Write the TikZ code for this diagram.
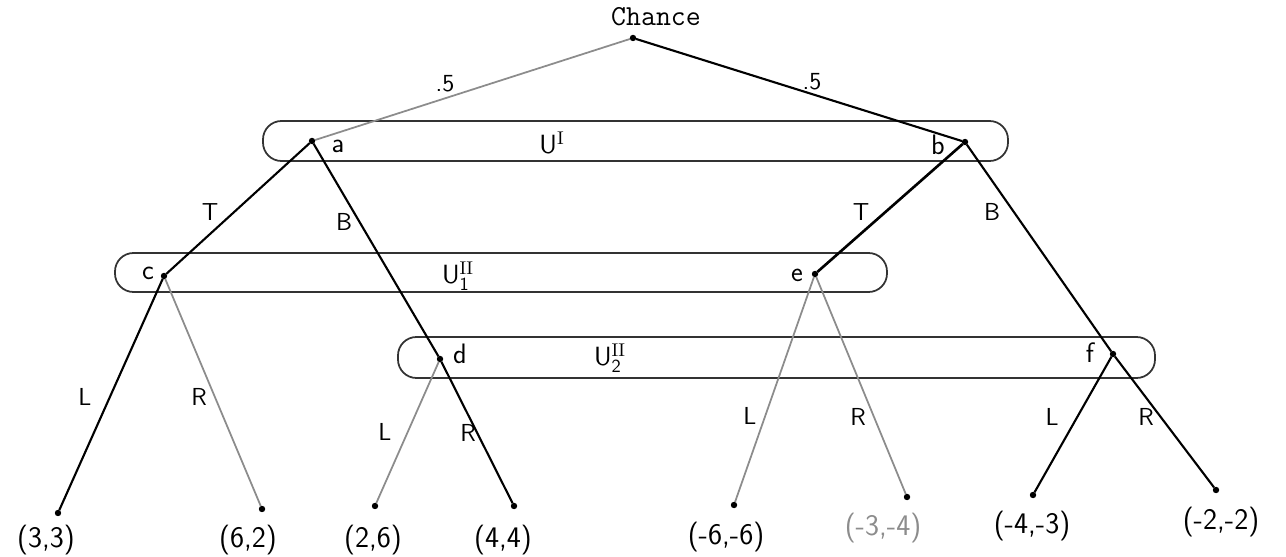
\documentclass[tikz,border=0pt]{standalone}
\usepackage{fontspec}
\begin{document}
\begin{tikzpicture}[x=0.02cm,y=-0.02cm,
  dot/.style={circle,draw=black,fill=black,line width=0.6pt,inner sep=0pt,minimum size=3pt},
  heavy/.style={black,line width=1.2pt},
  light/.style={black!45,line width=1.0pt},
  infoset/.style={draw=black!80,line width=1.0pt,rounded corners=10.5pt},
  hand/.style={font=\sffamily\fontsize{16}{18}\selectfont,inner sep=0pt},
  payoff/.style={font=\sffamily\fontsize{17}{19}\selectfont,inner sep=0pt},
  elab/.style={font=\sffamily\fontsize{14}{16}\selectfont,inner sep=0pt},
  setlab/.style={font=\sffamily\fontsize{15}{17}\selectfont,inner sep=0pt}]
\useasboundingbox (0,0) rectangle (1286,557);

% information sets
\draw[infoset] (263,121) rectangle (1008,161);
\draw[infoset] (115,253) rectangle (887,292);
\draw[infoset] (398,337) rectangle (1155,378);

% decision nodes
\node[dot] (ch) at (633,38) {};
\node[dot] (a) at (312,141) {};
\node[dot] (b) at (965,142) {};
\node[dot] (c) at (164,276) {};
\node[dot] (d) at (440,359) {};
\node[dot] (e) at (815,274) {};
\node[dot] (f) at (1113,354) {};
% terminal nodes
\node[dot] (l1) at (58,513) {};
\node[dot] (l2) at (262,509) {};
\node[dot] (l3) at (375,506) {};
\node[dot] (l4) at (514,506) {};
\node[dot] (l5) at (734,505) {};
\node[dot] (l6) at (907,497) {};
\node[dot] (l7) at (1033,495) {};
\node[dot] (l8) at (1216,490) {};

% edges
\draw[light] (ch) -- (a);
\draw[heavy] (ch) -- (b);
\draw[heavy] (a) -- (c);
\draw[heavy] (a) -- (d);
\draw[heavy,line width=1.5pt] (b) -- (e);
\draw[heavy] (b) -- (f);
\draw[heavy] (c) -- (l1);
\draw[light] (c) -- (l2);
\draw[light] (d) -- (l3);
\draw[heavy] (d) -- (l4);
\draw[light] (e) -- (l5);
\draw[light] (e) -- (l6);
\draw[heavy] (f) -- (l7);
\draw[heavy] (f) -- (l8);

% labels
\node[font=\ttfamily\fontsize{16.5}{18}\selectfont,inner sep=0pt] (tch) at (656,17) {Chance};
\node[elab] (p1) at (445,84) {.5};
\node[elab] (p2) at (812,82) {.5};
\node[setlab] (s1) at (552,143) {U$^{\mathrm{I}}$};
\node[setlab] (s2) at (458,276) {U$_{\mathsf{1}}^{\mathrm{II}}$};
\node[setlab] (s3) at (610,358) {U$_{\mathsf{2}}^{\mathrm{II}}$};
\node[hand] (ta) at (338,146) {a};
\node[hand] (tb) at (938,145) {b};
\node[hand] (tc) at (148,273) {c};
\node[hand] (td) at (460,354) {d};
\node[hand] (te) at (797,275) {e};
\node[hand] (tf) at (1090,353) {f};
\node[elab] (m1) at (210,212) {T};
\node[elab] (m2) at (344,222) {B};
\node[elab] (m3) at (861,212) {T};
\node[elab] (m4) at (992,212) {B};
\node[elab] (m5) at (85,397) {L};
\node[elab] (m6) at (199,397) {R};
\node[elab] (m7) at (385,432) {L};
\node[elab] (m8) at (468,433) {R};
\node[elab] (m9) at (750,416) {L};
\node[elab] (m10) at (858,417) {R};
\node[elab] (m11) at (1052,417) {L};
\node[elab] (m12) at (1146,417) {R};
\node[payoff] (o1) at (46,540) {(3,3)};
\node[payoff] (o2) at (248,540) {(6,2)};
\node[payoff] (o3) at (373,540) {(2,6)};
\node[payoff] (o4) at (503,540) {(4,4)};
\node[payoff] (o5) at (726,537) {(-6,-6)};
\node[payoff,text=black!45] (o6) at (883,528) {(-3,-4)};
\node[payoff] (o7) at (1032,526) {(-4,-3)};
\node[payoff] (o8) at (1221,522) {(-2,-2)};
\end{tikzpicture}
\end{document}
